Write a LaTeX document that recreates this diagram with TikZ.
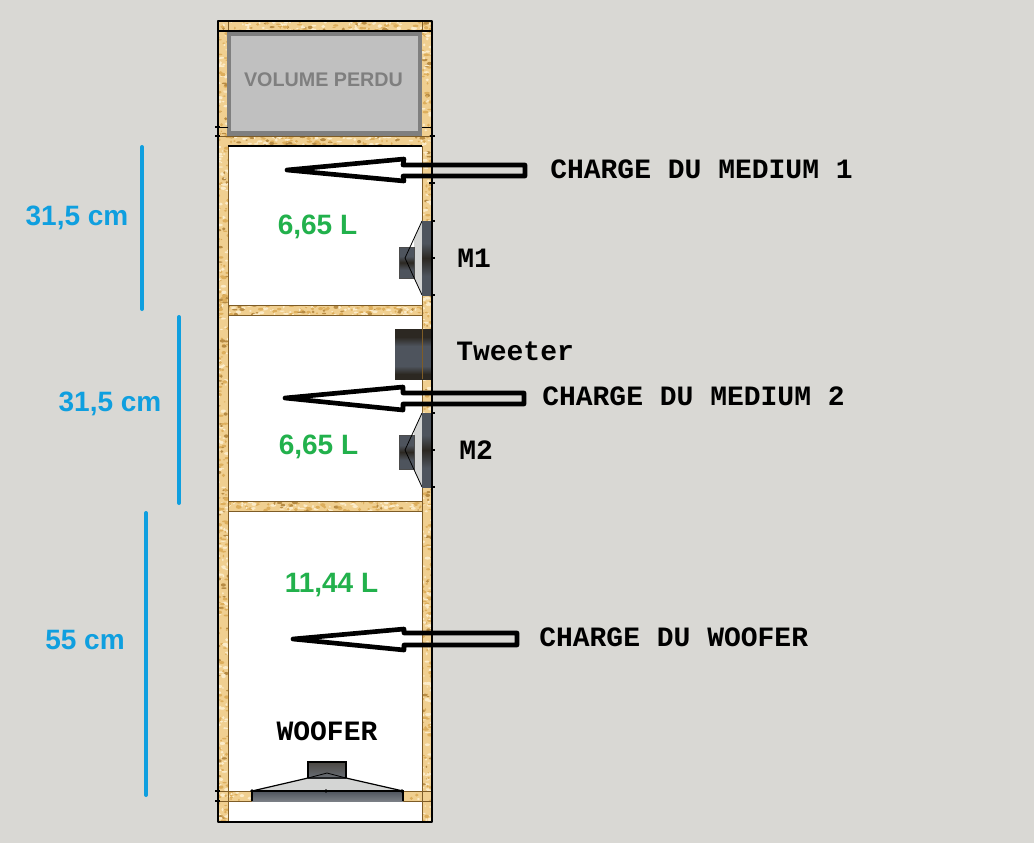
\documentclass[tikz,border=0pt]{standalone}
\usepackage{fontspec}
\setmainfont{Liberation Sans}
\newfontfamily\monofam{Liberation Mono}
\definecolor{bgc}{HTML}{D9D8D4}
\definecolor{woodc}{HTML}{F0CF90}
\definecolor{woodd}{HTML}{DDAE5C}
\definecolor{woodl}{HTML}{FBEBC8}
\definecolor{woodb}{HTML}{B88C44}
\definecolor{edgec}{HTML}{7E5C26}
\definecolor{bluec}{HTML}{0F9FDF}
\definecolor{greenc}{HTML}{22B14C}
\definecolor{gout}{HTML}{7F7F7F}
\definecolor{gin}{HTML}{C0C0C0}
\definecolor{sdark}{HTML}{2C2822}
\definecolor{sblue}{HTML}{4E545D}
\definecolor{cone}{HTML}{D4D5D4}
\pgfdeclareverticalshading{tweetershade}{100bp}{color(0bp)=(sdark); color(25bp)=(sdark); color(30bp)=(sdark); color(38bp)=(sblue); color(58bp)=(sblue); color(67bp)=(sdark); color(75bp)=(sdark); color(100bp)=(sdark)}
\pgfdeclareverticalshading{speakershade}{100bp}{color(0bp)=(sblue); color(25bp)=(sblue); color(38bp)=(sblue); color(50bp)=(sdark); color(60bp)=(sblue); color(75bp)=(sblue); color(100bp)=(sblue)}
\tikzset{
  dimtext/.style={font=\fontsize{21}{24}\selectfont\bfseries,text=bluec,inner sep=0pt},
  voltext/.style={font=\fontsize{21}{24}\selectfont\bfseries,text=greenc,inner sep=0pt},
  labeltext/.style={font=\fontsize{21}{24}\selectfont\monofam\bfseries,text=black,inner sep=0pt,anchor=west},
  dimline/.style={bluec,line width=3pt,line cap=round},
  hollowarrow/.style={black,line width=3.5pt,line join=round},
  frameline/.style={black,line width=1.6pt},
  edgeline/.style={edgec,line width=0.7pt},
  tick/.style={black,line width=0.8pt}
}
% x0 y0 x1 y1 count
\newcommand{\woodstrip}[5]{%
  \fill[woodc] (#1,#2) rectangle (#3,#4);
  \begin{scope}
  \clip (#1,#2) rectangle (#3,#4);
  \foreach \k in {1,...,#5}{%
    \pgfmathsetmacro\xa{#1+rnd*(#3-#1)}%
    \pgfmathsetmacro\ya{#2+rnd*(#4-#2)}%
    \pgfmathsetmacro\ra{0.8+rnd*2.2}%
    \pgfmathsetmacro\rb{0.6+rnd*1.2}%
    \pgfmathtruncatemacro\cc{int(rnd*7)}%
    \ifcase\cc\def\sc{woodd}\or\def\sc{woodl}\or\def\sc{woodd}\or\def\sc{woodl}\or\def\sc{woodb}\or\def\sc{woodd}\else\def\sc{woodl}\fi
    \fill[\sc] (\xa,\ya) ellipse [x radius=\ra,y radius=\rb];
  }
  \end{scope}}
\newcommand{\midspeaker}[3]{%
  % #1 = apex y, #2 = magnet top, #3 = magnet bottom
  \fill[cone] (422,#1-37) -- (414,#1-20) -- (414,#1+20) -- (422,#1+37) -- cycle;
  \shade[shading=speakershade] (399,#2) rectangle (414,#3);
  \draw[black!70,line width=0.5pt] (399,#2) rectangle (414,#3);
  \draw[black,line width=0.6pt] (422,#1-37) -- (405,#1) -- (422,#1+37);
  \shade[shading=speakershade] (422,#1-37) rectangle (432,#1+37);
  \draw[tick] (432,#1-37) -- (435,#1-37) (432,#1) -- (435,#1) (432,#1+37) -- (435,#1+37);}
\begin{document}
\begin{tikzpicture}[x=0.75pt,y=-0.75pt]
\useasboundingbox (0,0) rectangle (1034,843);
\fill[bgc] (0,0) rectangle (1034,843);
\pgfmathsetseed{4242}
% wood walls and panels
\woodstrip{218}{21}{228}{822}{420}
\woodstrip{422}{21}{432}{822}{420}
\woodstrip{218}{21}{432}{31}{130}
\woodstrip{218}{136}{432}{146}{130}
\woodstrip{228}{305}{422}{315}{130}
\woodstrip{228}{501}{422}{511}{130}
\woodstrip{218}{791}{432}{801}{70}
% white chambers
\fill[white] (228,146) rectangle (422,305);
\fill[white] (228,315) rectangle (422,501);
\fill[white] (228,511) rectangle (422,791);
\fill[white] (228,801) rectangle (422,822);
\fill[white] (251,791) rectangle (403,801);
% lost volume
\fill[gout] (227,31) rectangle (422,136);
\fill[gin] (231,36) rectangle (418,131);
\node[font=\fontsize{14.8}{17}\selectfont\bfseries,text=gout,inner sep=0pt] (perdu) at (323.5,80) {VOLUME PERDU};
% panel and wall edges
\draw[edgeline] (228,146) -- (228,822) (422,146) -- (422,822);
\draw[edgeline] (228,21) -- (228,31) (422,21) -- (422,31);
\draw[edgeline] (218,136) -- (432,136);
\draw[black,line width=0.8pt] (218,31) -- (432,31);
\draw[black,line width=0.8pt] (228,146) -- (422,146);
\draw[black,line width=0.5pt] (218,127) -- (228,127) (422,127) -- (432,127);
\draw[edgeline] (228,305) -- (422,305) (228,315) -- (422,315);
\draw[edgeline] (228,501) -- (422,501) (228,511) -- (422,511);
\draw[edgeline] (218,791) -- (432,791) (218,801) -- (432,801);
% speakers
\midspeaker{258}{247}{278}
\midspeaker{450}{435}{469}
\shade[shading=tweetershade] (395,329) rectangle (432,379);
\draw[edgec,line width=0.5pt] (422,329) -- (422,379);
% woofer
\fill[cone] (251,791) -- (308,778) -- (346,778) -- (403,791) -- cycle;
\shade[top color=sdark!85!white,bottom color=sblue!85!white] (308,762) rectangle (346,778);
\draw[black,line width=0.8pt] (308,778) -- (308,762) -- (346,762) -- (346,778);
\shade[top color=sblue,bottom color=sblue!75!white] (252,791) rectangle (403,801);
\draw[black,line width=0.8pt] (252,801) -- (252,791) -- (403,791) -- (403,801);
\draw[black,line width=0.9pt] (252,791) -- (308,778) -- (346,778) -- (403,791);
\draw[black,line width=0.6pt] (308,778) -- (327,773) -- (346,778);
\fill[black] (252,791) circle (1.8) (326,791) circle (1.8) (402,791) circle (1.8);
% outer frame
\draw[frameline,line join=round] (218,21) rectangle (432,822);
\draw[tick] (215,127) -- (220,127) (215,136) -- (220,136) (430,136) -- (435,136)
  (215,791) -- (220,791) (215,801) -- (220,801) (429,183) -- (435,183);
% hollow arrows
\draw[hollowarrow] (287,170) -- (404,159) -- (403,165) -- (525,165) -- (525,176) -- (403,176) -- (404,181) -- cycle;
\draw[hollowarrow] (285,398) -- (403,387) -- (403,393) -- (524,393) -- (524,404) -- (403,404) -- (403,410) -- cycle;
\draw[hollowarrow] (293,639) -- (404,629) -- (404,633) -- (517,633) -- (517,645) -- (404,645) -- (404,650) -- cycle;
% dimension lines
\draw[dimline] (142,147) -- (142,309);
\draw[dimline] (179,317) -- (179,503);
\draw[dimline] (146,513) -- (146,795);
% dimension labels
\node[dimtext] (d1) at (77,218) {31,5 cm};
\node[dimtext] (d2) at (110,404) {31,5 cm};
\node[dimtext] (d3) at (85,640) {55 cm};
% volumes
\node[voltext] (v1) at (317.5,227) {6,65 L};
\node[voltext] (v2) at (318.5,447) {6,65 L};
\node[voltext] (v3) at (331.5,585) {11,44 L};
% labels
\node[labeltext] (c1) at (550,169) {CHARGE DU MEDIUM 1};
\node[labeltext] (c2) at (542,396) {CHARGE DU MEDIUM 2};
\node[labeltext] (c3) at (539,637) {CHARGE DU WOOFER};
\node[labeltext] (m1) at (457,258) {M1};
\node[labeltext] (m2) at (459,450) {M2};
\node[labeltext] (tw) at (456,351) {Tweeter};
\node[labeltext,anchor=center] (wf) at (327,731) {WOOFER};
\end{tikzpicture}
\end{document}
